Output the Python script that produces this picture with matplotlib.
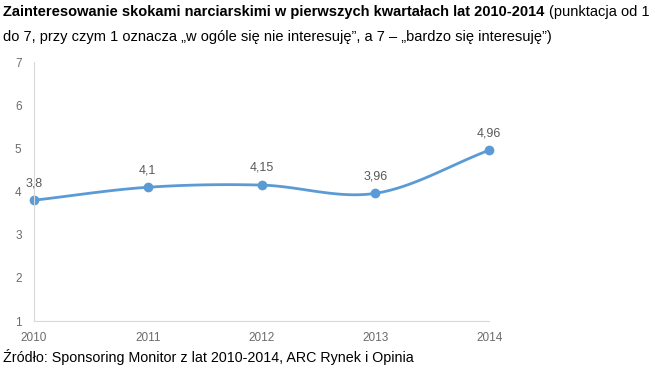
import numpy as np
import matplotlib.pyplot as plt

plt.rcParams['font.family'] = ['Liberation Sans', 'DejaVu Sans']

years = [2010, 2011, 2012, 2013, 2014]
values = [3.8, 4.1, 4.15, 3.96, 4.96]
labels = ["3,8", "4,1", "4,15", "3,96", "4,96"]


def smooth(x, y, n=30):
    # Catmull-Rom curve through the points, similar to Excel's smoothed line
    x = np.asarray(x, float)
    y = np.asarray(y, float)
    px = np.concatenate([[2 * x[0] - x[1]], x, [2 * x[-1] - x[-2]]])
    py = np.concatenate([[2 * y[0] - y[1]], y, [2 * y[-1] - y[-2]]])
    xs, ys = [], []
    t = np.linspace(0, 1, n)
    for i in range(1, len(px) - 2):
        for p, out in ((px, xs), (py, ys)):
            p0, p1, p2, p3 = p[i - 1], p[i], p[i + 1], p[i + 2]
            out.extend(0.5 * ((2 * p1) + (-p0 + p2) * t
                              + (2 * p0 - 5 * p1 + 4 * p2 - p3) * t ** 2
                              + (-p0 + 3 * p1 - 3 * p2 + p3) * t ** 3))
    return np.array(xs), np.array(ys)


fig = plt.figure(figsize=(6.55, 3.76), dpi=100)
ax = fig.add_axes([0.052, 0.146, 0.695, 0.689])

blue = "#5b9bd5"
sx, sy = smooth(years, values)
ax.plot(sx, sy, color=blue, lw=2, clip_on=False)
ax.plot(years, values, "o", color=blue, ms=6, clip_on=False)
for x, y, lab in zip(years, values, labels):
    ax.annotate(lab, (x, y), xytext=(0, 8), textcoords="offset points",
                ha="center", va="bottom", fontsize=9, color="#595959")

ax.set_xlim(2010, 2014)
ax.set_ylim(1, 7)
ax.set_xticks(years)
ax.set_yticks(range(1, 8))
ax.tick_params(length=0, labelsize=8.5, colors="#6b6b6b")
ax.tick_params(axis="y", pad=9)
ax.tick_params(axis="x", pad=8)
for s in ["top", "right"]:
    ax.spines[s].set_visible(False)
for s in ["left", "bottom"]:
    ax.spines[s].set_color("#d9d9d9")

# title: bold part followed by regular text
fig.canvas.draw()
r = fig.canvas.get_renderer()
t1 = fig.text(0.005, 0.967, "Zainteresowanie skokami narciarskimi w pierwszych kwartałach lat 2010-2014",
              fontsize=10.5, fontweight="bold", va="center")
bb = t1.get_window_extent(renderer=r)
fig.text(bb.x1 / fig.bbox.width + 0.006, 0.967, "(punktacja od 1",
         fontsize=10.5, va="center")
fig.text(0.005, 0.902, "do 7, przy czym 1 oznacza „w ogóle się nie interesuję”, a 7 – „bardzo się interesuję”)",
         fontsize=10.5, va="center")
fig.text(0.005, 0.05, "Źródło: Sponsoring Monitor z lat 2010-2014, ARC Rynek i Opinia",
         fontsize=10.3, va="center")

fig.savefig("out.png", dpi=100)
